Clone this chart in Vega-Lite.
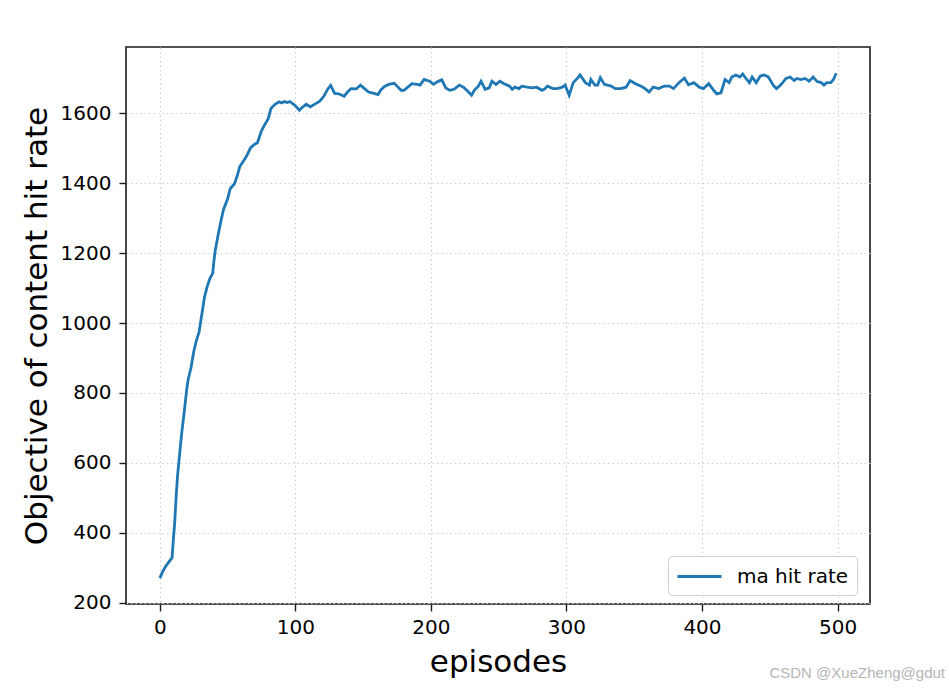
{
  "$schema": "https://vega.github.io/schema/vega-lite/v6.json",
  "autosize": "none",
  "width": 744,
  "height": 557,
  "padding": {"left": 126, "top": 47, "right": 79, "bottom": 84},
  "background": "white",
  "title": {
    "text": "CSDN @XueZheng@gdut",
    "orient": "bottom",
    "anchor": "end",
    "frame": "group",
    "font": "Liberation Sans",
    "fontSize": 15,
    "fontWeight": "normal",
    "color": "#b5b5b5",
    "dx": 75,
    "offset": -11
  },
  "data": {
    "values": [
      {"episode": 0, "value": 270}, {"episode": 2, "value": 288}, {"episode": 4, "value": 302}, {"episode": 7, "value": 318},
      {"episode": 9, "value": 328}, {"episode": 10, "value": 380}, {"episode": 11, "value": 430}, {"episode": 12, "value": 500},
      {"episode": 13, "value": 560}, {"episode": 15, "value": 640}, {"episode": 16, "value": 680}, {"episode": 18, "value": 745},
      {"episode": 20, "value": 815}, {"episode": 21, "value": 840}, {"episode": 23, "value": 872}, {"episode": 25, "value": 918},
      {"episode": 27, "value": 950}, {"episode": 29, "value": 975}, {"episode": 31, "value": 1025}, {"episode": 33, "value": 1075},
      {"episode": 35, "value": 1105}, {"episode": 37, "value": 1128}, {"episode": 39, "value": 1142}, {"episode": 40, "value": 1180},
      {"episode": 41, "value": 1210}, {"episode": 43, "value": 1252}, {"episode": 45, "value": 1290}, {"episode": 47, "value": 1325},
      {"episode": 50, "value": 1355}, {"episode": 52, "value": 1385}, {"episode": 55, "value": 1398}, {"episode": 57, "value": 1420},
      {"episode": 59, "value": 1448}, {"episode": 62, "value": 1465}, {"episode": 64, "value": 1478}, {"episode": 67, "value": 1502},
      {"episode": 70, "value": 1512}, {"episode": 72, "value": 1516}, {"episode": 75, "value": 1550}, {"episode": 77, "value": 1565},
      {"episode": 80, "value": 1585}, {"episode": 82, "value": 1614}, {"episode": 85, "value": 1626}, {"episode": 88, "value": 1633},
      {"episode": 90, "value": 1630}, {"episode": 92, "value": 1634}, {"episode": 94, "value": 1631}, {"episode": 96, "value": 1634},
      {"episode": 98, "value": 1628}, {"episode": 100, "value": 1622}, {"episode": 103, "value": 1609}, {"episode": 105, "value": 1617},
      {"episode": 108, "value": 1626}, {"episode": 111, "value": 1619}, {"episode": 115, "value": 1628}, {"episode": 118, "value": 1635},
      {"episode": 121, "value": 1649}, {"episode": 124, "value": 1670}, {"episode": 126, "value": 1680}, {"episode": 129, "value": 1657},
      {"episode": 132, "value": 1656}, {"episode": 136, "value": 1649}, {"episode": 138, "value": 1659}, {"episode": 141, "value": 1671},
      {"episode": 145, "value": 1670}, {"episode": 148, "value": 1681}, {"episode": 151, "value": 1671}, {"episode": 154, "value": 1661},
      {"episode": 158, "value": 1657}, {"episode": 161, "value": 1654}, {"episode": 163, "value": 1667}, {"episode": 166, "value": 1678},
      {"episode": 169, "value": 1683}, {"episode": 173, "value": 1686}, {"episode": 175, "value": 1678}, {"episode": 178, "value": 1666},
      {"episode": 180, "value": 1666}, {"episode": 183, "value": 1675}, {"episode": 186, "value": 1685}, {"episode": 190, "value": 1683},
      {"episode": 192, "value": 1681}, {"episode": 195, "value": 1697}, {"episode": 199, "value": 1692}, {"episode": 202, "value": 1683},
      {"episode": 205, "value": 1691}, {"episode": 208, "value": 1696}, {"episode": 211, "value": 1673}, {"episode": 214, "value": 1666},
      {"episode": 217, "value": 1669}, {"episode": 221, "value": 1681}, {"episode": 224, "value": 1675}, {"episode": 227, "value": 1664},
      {"episode": 230, "value": 1652}, {"episode": 232, "value": 1666}, {"episode": 235, "value": 1678}, {"episode": 237, "value": 1692},
      {"episode": 240, "value": 1669}, {"episode": 243, "value": 1673}, {"episode": 245, "value": 1692}, {"episode": 248, "value": 1683},
      {"episode": 251, "value": 1692}, {"episode": 254, "value": 1685}, {"episode": 258, "value": 1678}, {"episode": 260, "value": 1669},
      {"episode": 262, "value": 1675}, {"episode": 265, "value": 1671}, {"episode": 267, "value": 1678}, {"episode": 271, "value": 1675},
      {"episode": 275, "value": 1673}, {"episode": 278, "value": 1675}, {"episode": 282, "value": 1666}, {"episode": 284, "value": 1670},
      {"episode": 286, "value": 1678}, {"episode": 290, "value": 1671}, {"episode": 293, "value": 1671}, {"episode": 297, "value": 1675},
      {"episode": 299, "value": 1681}, {"episode": 302, "value": 1652}, {"episode": 305, "value": 1688}, {"episode": 308, "value": 1700},
      {"episode": 310, "value": 1710}, {"episode": 314, "value": 1688}, {"episode": 317, "value": 1681}, {"episode": 318, "value": 1697},
      {"episode": 321, "value": 1681}, {"episode": 323, "value": 1681}, {"episode": 325, "value": 1702}, {"episode": 328, "value": 1683},
      {"episode": 333, "value": 1678}, {"episode": 336, "value": 1671}, {"episode": 340, "value": 1671}, {"episode": 344, "value": 1675},
      {"episode": 347, "value": 1694}, {"episode": 351, "value": 1685}, {"episode": 355, "value": 1678}, {"episode": 358, "value": 1671},
      {"episode": 361, "value": 1661}, {"episode": 364, "value": 1675}, {"episode": 368, "value": 1671}, {"episode": 372, "value": 1678},
      {"episode": 376, "value": 1678}, {"episode": 379, "value": 1671}, {"episode": 383, "value": 1688}, {"episode": 387, "value": 1701},
      {"episode": 390, "value": 1682}, {"episode": 394, "value": 1688}, {"episode": 398, "value": 1675}, {"episode": 401, "value": 1671},
      {"episode": 405, "value": 1685}, {"episode": 409, "value": 1664}, {"episode": 411, "value": 1656}, {"episode": 414, "value": 1659},
      {"episode": 417, "value": 1697}, {"episode": 420, "value": 1688}, {"episode": 422, "value": 1704}, {"episode": 425, "value": 1710},
      {"episode": 428, "value": 1704}, {"episode": 430, "value": 1713}, {"episode": 433, "value": 1697}, {"episode": 435, "value": 1688},
      {"episode": 437, "value": 1704}, {"episode": 440, "value": 1688}, {"episode": 443, "value": 1707}, {"episode": 446, "value": 1710},
      {"episode": 449, "value": 1704}, {"episode": 453, "value": 1678}, {"episode": 455, "value": 1671}, {"episode": 458, "value": 1681},
      {"episode": 462, "value": 1700}, {"episode": 465, "value": 1704}, {"episode": 468, "value": 1694}, {"episode": 470, "value": 1700},
      {"episode": 473, "value": 1697}, {"episode": 476, "value": 1700}, {"episode": 479, "value": 1692}, {"episode": 482, "value": 1704},
      {"episode": 485, "value": 1691}, {"episode": 488, "value": 1688}, {"episode": 490, "value": 1681}, {"episode": 492, "value": 1688},
      {"episode": 495, "value": 1688}, {"episode": 497, "value": 1697}, {"episode": 499, "value": 1715}
    ]
  },
  "mark": {"type": "line", "strokeWidth": 2.8, "clip": true},
  "encoding": {
    "x": {
      "field": "episode",
      "type": "quantitative",
      "scale": {"domain": [-24.95, 523.95], "nice": false, "zero": false},
      "axis": {"values": [0, 100, 200, 300, 400, 500], "format": "d", "title": "episodes", "titlePadding": 10, "labelPadding": 6}
    },
    "y": {
      "field": "value",
      "type": "quantitative",
      "scale": {"domain": [196, 1790], "nice": false, "zero": false},
      "axis": {"values": [200, 400, 600, 800, 1000, 1200, 1400, 1600], "format": "d", "title": "Objective of content hit rate", "titlePadding": 7, "labelPadding": 8}
    },
    "color": {
      "datum": "ma hit rate",
      "type": "nominal",
      "scale": {"range": ["#1f77b4"]},
      "legend": {
        "title": null,
        "orient": "none",
        "legendX": 542,
        "legendY": 509,
        "symbolType": "M-1,0H3",
        "symbolSize": 484,
        "symbolStrokeWidth": 2.8,
        "labelOffset": 36,
        "labelFont": "DejaVu Sans",
        "labelFontSize": 20,
        "labelColor": "#000000",
        "padding": 8,
        "strokeColor": "#d0d0d0",
        "fillColor": "rgba(255,255,255,0.8)",
        "cornerRadius": 4
      }
    }
  },
  "config": {
    "view": {"stroke": "#1a1a1a", "strokeWidth": 1.6},
    "axis": {
      "domain": false,
      "grid": true,
      "gridDash": [1.5, 3],
      "gridColor": "#cfcfcf",
      "gridWidth": 1.2,
      "ticks": true,
      "tickSize": 7,
      "tickWidth": 1.4,
      "tickColor": "#1a1a1a",
      "labelFont": "DejaVu Sans",
      "labelFontSize": 20,
      "labelColor": "#000000",
      "titleFont": "DejaVu Sans",
      "titleFontSize": 31,
      "titleFontWeight": "normal",
      "titleColor": "#000000"
    }
  }
}
